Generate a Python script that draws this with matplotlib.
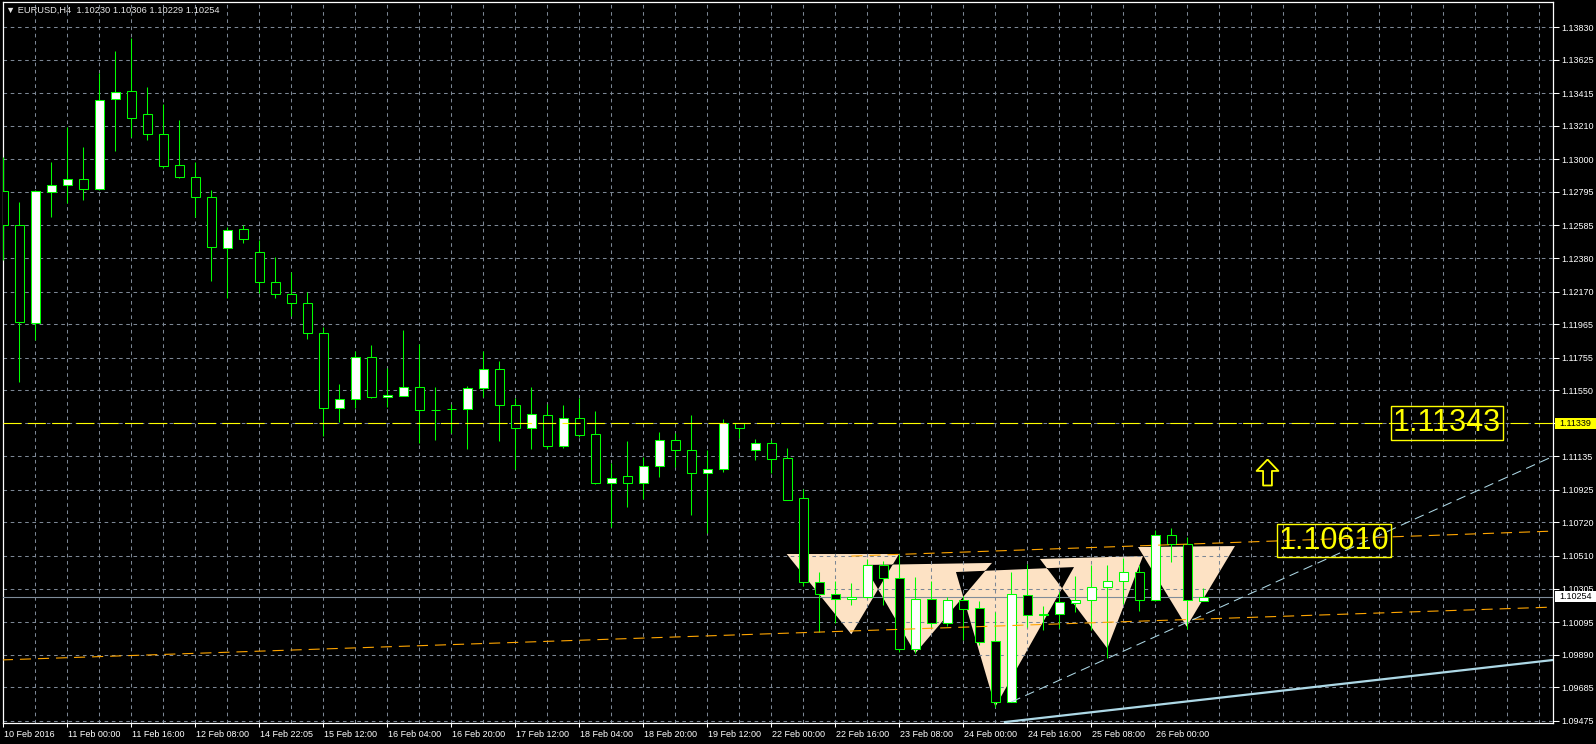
import matplotlib
matplotlib.use('Agg')
import matplotlib.pyplot as plt
import matplotlib.transforms as mtransforms
from matplotlib.path import Path
from matplotlib.patches import PathPatch, Rectangle
import numpy as np

plt.rcParams['font.family'] = ['Liberation Sans', 'DejaVu Sans']
plt.rcParams['lines.scale_dashes'] = False

# EURUSD H4 candles
opens = [1.12799, 1.12586, 1.11970, 1.12797, 1.12837, 1.12874, 1.12815, 1.13377, 1.13427, 1.13282,
         1.13157, 1.12962, 1.12887, 1.12761, 1.12441, 1.12560, 1.12416, 1.12228, 1.12152, 1.12096,
         1.11908, 1.11437, 1.11493, 1.11757, 1.11506, 1.11516, 1.11569, 1.11424, 1.11430, 1.11430,
         1.11562, 1.11682, 1.11456, 1.11311, 1.11393, 1.11202, 1.11374, 1.11273, 1.10970, 1.11010,
         1.10966, 1.11073, 1.11236, 1.11173, 1.11029, 1.11054, 1.11343, 1.11173, 1.11217, 1.11123,
         1.10872, 1.10344, 1.10269, 1.10241, 1.10250, 1.10451, 1.10369, 1.09924, 1.10238, 1.10087,
         1.10231, 1.10181, 1.09974, 1.09591, 1.10263, 1.10137, 1.10143, 1.10216, 1.10231, 1.10313,
         1.10351, 1.10407, 1.10231, 1.10639, 1.10583, 1.10230]
highs = [1.13016, 1.12732, 1.12810, 1.12983, 1.13203, 1.13077, 1.13542, 1.13680, 1.13761, 1.13454,
         1.13345, 1.13247, 1.12983, 1.12807, 1.12577, 1.12587, 1.12493, 1.12387, 1.12292, 1.12169,
         1.11949, 1.11589, 1.11798, 1.11834, 1.11688, 1.11928, 1.11838, 1.11569, 1.11462, 1.11577,
         1.11798, 1.11734, 1.11499, 1.11569, 1.11464, 1.11457, 1.11499, 1.11420, 1.11091, 1.11231,
         1.11133, 1.11288, 1.11280, 1.11395, 1.11175, 1.11370, 1.11345, 1.11242, 1.11238, 1.11186,
         1.10928, 1.10407, 1.10352, 1.10338, 1.10491, 1.10478, 1.10520, 1.10380, 1.10354, 1.10254,
         1.10258, 1.10225, 1.10156, 1.10409, 1.10457, 1.10196, 1.10285, 1.10384, 1.10453, 1.10453,
         1.10499, 1.10453, 1.10673, 1.10683, 1.10631, 1.10306]
lows = [1.12368, 1.11602, 1.11865, 1.12640, 1.12727, 1.12744, 1.12807, 1.13054, 1.13142, 1.13121,
        1.12943, 1.12883, 1.12640, 1.12238, 1.12127, 1.12476, 1.12159, 1.12131, 1.12016, 1.11874,
        1.11263, 1.11353, 1.11440, 1.11501, 1.11447, 1.11516, 1.11221, 1.11238, 1.11280, 1.11181,
        1.11510, 1.11233, 1.11056, 1.11181, 1.11181, 1.11189, 1.11258, 1.10960, 1.10693, 1.10819,
        1.10867, 1.11007, 1.11070, 1.10767, 1.10656, 1.11039, 1.11248, 1.11112, 1.11032, 1.10858,
        1.10323, 1.10030, 1.10091, 1.10202, 1.10248, 1.10204, 1.09905, 1.09899, 1.10066, 1.10070,
        1.09982, 1.09951, 1.09563, 1.09590, 1.10066, 1.10045, 1.10056, 1.10160, 1.10045, 1.09867,
        1.10206, 1.10166, 1.10229, 1.10474, 1.10049, 1.10229]
closes = [1.12586, 1.11977, 1.12799, 1.12837, 1.12874, 1.12815, 1.13370, 1.13421, 1.13261, 1.13157,
          1.12960, 1.12887, 1.12761, 1.12447, 1.12554, 1.12498, 1.12228, 1.12152, 1.12096, 1.11908,
          1.11437, 1.11493, 1.11757, 1.11506, 1.11518, 1.11569, 1.11424, 1.11424, 1.11430, 1.11562,
          1.11682, 1.11456, 1.11311, 1.11399, 1.11202, 1.11374, 1.11271, 1.10970, 1.10997, 1.10966,
          1.11073, 1.11236, 1.11173, 1.11029, 1.11054, 1.11343, 1.11311, 1.11217, 1.11120, 1.10863,
          1.10344, 1.10269, 1.10241, 1.10254, 1.10451, 1.10369, 1.09924, 1.10238, 1.10091, 1.10231,
          1.10179, 1.09971, 1.09595, 1.10269, 1.10137, 1.10145, 1.10219, 1.10231, 1.10313, 1.10351,
          1.10407, 1.10231, 1.10639, 1.10583, 1.10231, 1.10254]

time_labels = ['10 Feb 2016', '11 Feb 00:00', '11 Feb 16:00', '12 Feb 08:00', '14 Feb 22:05',
               '15 Feb 12:00', '16 Feb 04:00', '16 Feb 20:00', '17 Feb 12:00', '18 Feb 04:00',
               '18 Feb 20:00', '19 Feb 12:00', '22 Feb 00:00', '22 Feb 16:00', '23 Feb 08:00',
               '24 Feb 00:00', '24 Feb 16:00', '25 Feb 08:00', '26 Feb 00:00']
price_ticks = [1.13830, 1.13625, 1.13415, 1.13210, 1.13000, 1.12795, 1.12585, 1.12380, 1.12170,
               1.11965, 1.11755, 1.11550, 1.11343, 1.11135, 1.10925, 1.10720, 1.10510, 1.10305,
               1.10095, 1.09890, 1.09685, 1.09475]
price_labels = ['1.13830', '1.13625', '1.13415', '1.13210', '1.13000', '1.12795', '1.12585', '1.12380',
                '1.12170', '1.11965', '1.11755', '1.11550', '', '1.11135', '1.10925', '1.10720',
                '1.10510', '1.10305', '1.10095', '1.09890', '1.09685', '1.09475']

# chart objects (bar index, price)
target_level = 1.11343
axis_level = 1.11339
last_price = 1.10254
upper_neck = [(53.0, 1.10509), (96.9, 1.10666)]
lower_neck = [(-0.1, 1.09857), (96.9, 1.10189)]
trend_solid = [(62.6, 1.09467), (96.9, 1.09857)]
trend_dashed = [(63.0, 1.09593), (96.9, 1.11137)]
triangles = [
    [(48.96, 1.10522), (55.98, 1.10522), (53.0, 1.10018)],
    [(53.79, 1.10453), (61.79, 1.10466), (57.0, 1.09899)],
    [(59.54, 1.10409), (66.92, 1.10440), (62.0, 1.09563)],
    [(64.79, 1.10491), (71.23, 1.10509), (69.0, 1.09930)],
    [(70.92, 1.10566), (76.98, 1.10572), (73.96, 1.10066)],
]
label_big = [(90.23, 1.11343, '1.11343'), (83.17, 1.10606, '1.10610')]
arrow_pos = (78.98, 1.11037)

W, H = 1596, 744
fig = plt.figure(figsize=(W / 100, H / 100), dpi=100, facecolor='black')
ax = fig.add_axes([2.5 / W, 1 - 723 / H, (1553 - 2.5) / W, (723 - 2.3) / H])
ax.set_facecolor('black')
ax.set_xlim(-0.06, 96.86)
ax.set_ylim(1.09461, 1.13986)

grid_kw = dict(color='#7c8795', lw=0.75, ls=(0, (2.6, 2.6)), zorder=2)
for p in price_ticks:
    ax.axhline(p, **grid_kw)
for xv in range(2, 97, 2):
    ax.axvline(xv, **grid_kw)

# background triangles, overlaps come out black
verts, codes = [], []
for i, t in enumerate(triangles):
    t = list(t)
    area = (t[1][0] - t[0][0]) * (t[2][1] - t[0][1]) - (t[2][0] - t[0][0]) * (t[1][1] - t[0][1])
    if (area > 0) != (i % 2 == 0):
        t = t[::-1]
    verts += t + [t[0]]
    codes += [Path.MOVETO, Path.LINETO, Path.LINETO, Path.CLOSEPOLY]
ax.add_patch(PathPatch(Path(verts, codes), facecolor='#fde2c4', edgecolor='none', zorder=1))

# candles
o, h, l, c = map(np.array, (opens, highs, lows, closes))
x = np.arange(len(o))
bull = c >= o
ax.vlines(x, l, h, color='#00ff00', lw=0.75, zorder=4)
ax.bar(x, np.abs(c - o), bottom=np.minimum(o, c), width=0.58,
       color=np.where(bull, 'white', 'black'), edgecolor='#00ff00', linewidth=0.75, zorder=5)

# lines
ax.axhline(last_price, color='#7f8c99', lw=0.8, zorder=3)
ax.axhline(target_level, color='yellow', lw=0.8, ls=(0, (13, 4.5)), zorder=6)
for seg in (upper_neck, lower_neck):
    ax.plot(*zip(*seg), color='#ffa500', lw=0.8, ls=(0, (8, 5)), zorder=6)
ax.plot(*zip(*trend_solid), color='#add8e6', lw=1.6, zorder=6)
ax.plot(*zip(*trend_dashed), color='#add8e6', lw=0.75, ls=(0, (7, 4)), zorder=6)

for xi, yi, txt in label_big:
    ax.text(xi, yi, txt, color='yellow', fontsize=22, ha='center', va='center', zorder=7,
            bbox=dict(boxstyle='square,pad=0.06', fc='none', ec='yellow', lw=1.0))

arrow = Path([(0, 0.5), (-0.42, 0.06), (-0.17, 0.06), (-0.17, -0.5), (0.17, -0.5),
              (0.17, 0.06), (0.42, 0.06), (0, 0.5)])
ax.plot([arrow_pos[0]], [arrow_pos[1]], marker=arrow, markersize=18.7, mfc='black',
        mec='yellow', mew=1.3, zorder=7)

# axes styling
for s in ax.spines.values():
    s.set_color('white')
    s.set_linewidth(0.9)
ax.set_xticks(np.arange(len(time_labels)) * 4)
ax.set_xticklabels(time_labels)
ax.yaxis.tick_right()
ax.set_yticks(price_ticks)
ax.set_yticklabels(price_labels)
ax.tick_params(axis='x', direction='out', length=3, width=0.75, colors='white', labelsize=6.5, pad=2)
ax.tick_params(axis='y', direction='out', length=4, width=0.75, colors='white', labelsize=6.5, pad=2)
shift = mtransforms.ScaledTranslation(1 / 100, 0, fig.dpi_scale_trans)
for lbl in ax.get_xticklabels():
    lbl.set_ha('left')
    lbl.set_transform(lbl.get_transform() + shift)

# price boxes on the right scale
box_tr = mtransforms.blended_transform_factory(fig.transFigure, ax.transData)
box_h = 0.00068
for level, txt, col in ((axis_level, '1.11339', 'yellow'), (last_price, '1.10254', 'white')):
    ax.add_patch(Rectangle((1555 / W, level - box_h / 2), 41 / W, box_h, transform=box_tr,
                           facecolor=col, edgecolor='none', clip_on=False, zorder=8))
    ax.text(1559 / W, level, txt, transform=box_tr, color='black', fontsize=6.5,
            ha='left', va='center', clip_on=False, zorder=9)

fig.text(6 / W, 1 - 10.7 / H, '\u25bc EURUSD,H4  1.10230 1.10306 1.10229 1.10254',
         color='#e6e6e6', fontsize=6.7, ha='left', va='center')

fig.savefig('out.png', dpi=100, facecolor='black')
